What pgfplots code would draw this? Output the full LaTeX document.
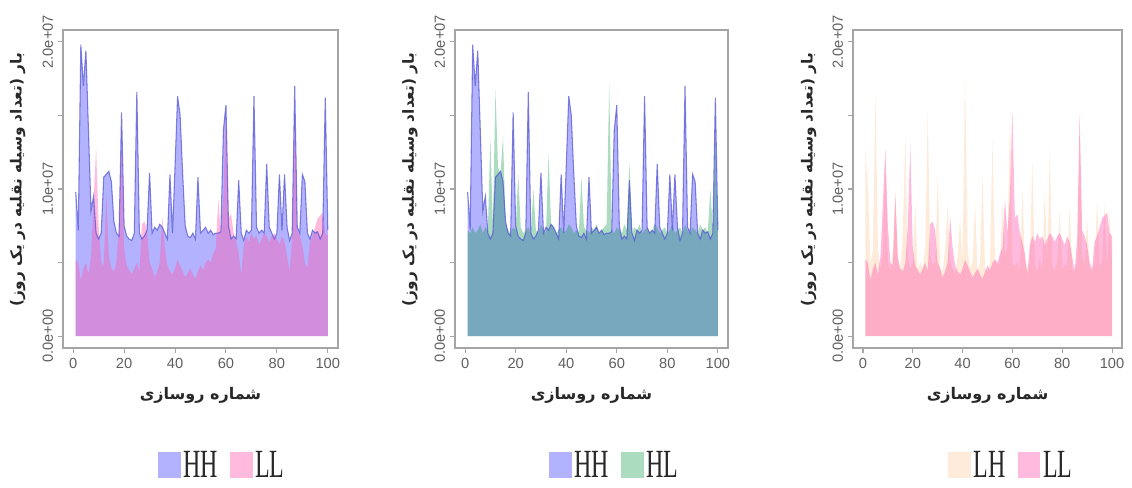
\documentclass[border=0pt]{standalone}
\usepackage{pgfplots}
\pgfplotsset{compat=1.18}
\usepackage{pgfplotstable}
\usepackage{fontspec}
\setmainfont{Liberation Sans}
\newfontfamily\arabicfont[Script=Arabic]{DejaVu Sans}
\newfontfamily\legfont{Liberation Serif}
\TeXXeTstate=1

\definecolor{hhfill}{RGB}{0,0,255}
\definecolor{hhline}{RGB}{80,80,210}
\definecolor{llfill}{RGB}{255,90,175}
\definecolor{hlfill}{RGB}{0,150,60}
\definecolor{lhfill}{RGB}{255,190,130}
\definecolor{boxgray}{RGB}{165,165,165}
\definecolor{ticktext}{RGB}{95,95,95}
\definecolor{labtext}{RGB}{40,40,40}

\newcommand{\ylab}{\arabicfont\bfseries\fontsize{11.5}{12}\selectfont\beginR بار (تعداد وسیله نقلیه در یک روز)\endR}
\newcommand{\xlab}{\arabicfont\bfseries\fontsize{12}{13}\selectfont\beginR شماره روسازی\endR}
\newcommand{\leg}[1]{\scalebox{0.6}[1]{\legfont\fontsize{30}{30}\selectfont #1}}

% values in units of 1e6 vehicles per day, pavement no. 1..100
\pgfplotstableread{
x hh ll hl lh
1 9.8 5.2 7.2 12.6
2 7.2 5.0 7.0 10.0
3 19.8 3.8 7.4 5.0
4 17.0 4.6 7.0 5.8
5 19.4 5.0 7.2 16.8
6 14.0 4.2 7.6 6.0
7 8.5 5.4 7.0 4.6
8 9.5 9.0 7.4 5.5
9 7.0 12.8 7.2 12.0
10 6.6 7.5 13.4 5.0
11 7.0 5.0 7.6 4.5
12 10.8 4.8 16.8 6.0
13 11.0 9.6 11.5 10.0
14 11.2 5.4 11.0 5.0
15 10.5 4.6 13.6 4.4
16 7.8 4.4 7.6 7.0
17 7.0 5.0 7.2 13.7
18 6.8 7.5 7.0 5.2
19 15.2 13.0 7.4 4.6
20 7.5 6.0 7.2 5.0
21 6.8 4.8 11.0 9.0
22 6.6 4.5 7.4 4.4
23 6.5 4.2 7.0 5.0
24 7.0 4.6 7.2 4.6
25 16.6 5.0 7.4 6.0
26 7.0 4.4 7.0 15.3
27 6.6 7.6 10.0 5.6
28 6.8 7.8 7.2 4.8
29 7.2 7.2 7.0 5.0
30 11.1 5.0 7.6 11.0
31 7.0 4.6 7.2 4.6
32 7.4 4.0 7.0 4.4
33 7.2 4.4 12.4 6.0
34 7.6 5.0 7.6 9.0
35 7.4 8.1 7.4 5.0
36 7.0 6.0 7.0 4.6
37 6.6 4.8 7.2 4.2
38 11.0 4.4 7.4 5.4
39 7.0 4.2 7.0 8.0
40 11.5 4.6 7.2 5.0
41 16.3 5.2 7.6 17.9
42 15.0 4.8 7.4 6.0
43 11.0 4.4 7.0 4.6
44 7.5 4.0 7.2 5.0
45 6.8 4.3 7.0 9.0
46 6.7 4.6 10.8 4.4
47 7.0 4.2 7.4 5.0
48 6.6 3.9 7.2 11.0
49 10.8 4.4 7.0 4.6
50 7.0 4.8 7.4 4.4
51 7.2 4.5 7.2 5.0
52 7.4 5.0 7.6 13.3
53 7.0 5.2 7.0 5.2
54 7.2 5.0 7.2 4.8
55 6.9 5.6 7.4 5.0
56 7.0 6.0 7.6 9.0
57 7.0 9.3 17.2 5.4
58 7.1 7.0 7.2 6.0
59 14.0 9.5 7.0 15.0
60 15.7 15.4 7.4 5.0
61 7.5 8.0 7.2 4.8
62 6.6 8.3 7.0 5.0
63 6.8 7.0 7.6 4.4
64 6.6 6.4 7.2 10.0
65 10.6 5.6 11.8 5.0
66 7.0 4.2 7.0 4.6
67 6.5 6.2 7.4 5.0
68 7.2 6.8 7.2 12.0
69 7.0 6.4 7.6 4.8
70 7.2 7.0 7.0 4.4
71 16.3 6.6 7.2 5.2
72 7.4 6.8 7.4 4.6
73 7.0 6.2 7.0 10.0
74 7.2 6.6 7.2 5.0
75 7.0 7.0 7.6 12.8
76 11.7 6.8 7.4 4.8
77 7.4 6.4 7.0 4.4
78 7.0 6.8 7.2 5.0
79 6.6 7.0 7.4 8.5
80 7.0 6.6 7.0 4.6
81 11.0 6.2 7.2 4.8
82 7.2 6.8 7.6 5.0
83 11.0 6.4 7.0 8.8
84 7.4 5.4 7.2 4.4
85 6.5 4.4 7.4 4.6
86 7.0 6.6 7.0 5.0
87 17.0 15.0 7.6 15.3
88 7.4 7.2 7.2 5.4
89 7.0 6.8 7.0 4.8
90 11.0 6.2 7.4 8.0
91 10.5 5.0 7.2 4.6
92 7.0 4.6 7.0 4.4
93 6.6 6.4 7.6 5.0
94 7.2 6.8 7.2 9.2
95 7.0 7.4 7.4 4.8
96 7.1 8.0 7.0 5.0
97 6.6 8.2 10.0 9.0
98 7.0 8.4 7.2 4.6
99 16.2 7.0 13.3 8.4
100 7.2 6.8 7.0 5.0
}\loads

\pgfplotsset{
  panel/.style={
    scale only axis, height=238.5pt, anchor=south west,
    xmin=-4, xmax=104, ymin=-0.8, ymax=20.8,
    axis line style={boxgray, line width=0.8pt},
    tick style={boxgray, line width=0.8pt},
    tick align=outside, major tick length=4pt,
    xtick pos=left, ytick pos=left,
    xtick={0,20,...,100}, ytick={0,5,10,15,20},
    yticklabels={0.0e+00,,1.0e+07,,2.0e+07},
    /pgf/number format/assume math mode=true,
    tick label style={font=\fontsize{11}{11}\selectfont, text=ticktext},
    yticklabel style={rotate=90, anchor=south},
    every axis y label/.style={at={(axis description cs:-0.165,0.53)}, rotate=90, anchor=center, text=labtext},
    every axis x label/.style={at={(axis description cs:0.5,-0.148)}, anchor=center, text=labtext},
    xlabel={\xlab}, ylabel={\ylab},
    legend style={anchor=center, draw=none, fill=none, legend columns=-1,
      /tikz/every even column/.append style={column sep=7pt}, text=labtext},
    legend image code/.code={\fill[#1, draw=none] (0pt,-10pt) rectangle (17pt,10pt);},
  },
}

\begin{document}
\begin{tikzpicture}
\path[use as bounding box] (0pt,0pt) rectangle (849pt,365.25pt);

% HH vs LL
\begin{axis}[panel, at={(47.25pt,104.25pt)}, width=206.25pt,
  legend style={at={(axis description cs:0.58,-0.368)}}]
\addplot[fill=hhfill, fill opacity=0.3, draw=none] table[x=x, y=hh]{\loads} \closedcycle;
\addlegendentry{\leg{HH}}
\addplot[fill=llfill, fill opacity=0.42, draw=none] table[x=x, y=ll]{\loads} \closedcycle;
\addlegendentry{\leg{LL}}
\addplot[forget plot, hhline, line width=0.8pt, draw opacity=0.7] table[x=x, y=hh]{\loads};
\end{axis}

% HH vs HL
\begin{axis}[panel, at={(341.25pt,104.25pt)}, width=204.75pt,
  legend style={at={(axis description cs:0.586,-0.368)}}]
\addplot[fill=hhfill, fill opacity=0.3, draw=none] table[x=x, y=hh]{\loads} \closedcycle;
\addlegendentry{\leg{HH}}
\addplot[fill=hlfill, fill opacity=0.33, draw=none] table[x=x, y=hl]{\loads} \closedcycle;
\addlegendentry{\leg{HL}}
\addplot[forget plot, hhline, line width=0.8pt, draw opacity=0.7] table[x=x, y=hh]{\loads};
\end{axis}

% LH vs LL
\begin{axis}[panel, at={(639.75pt,104.25pt)}, width=201.75pt,
  legend style={at={(axis description cs:0.59,-0.368)}}]
\addplot[fill=lhfill, fill opacity=0.3, draw=none] table[x=x, y=lh]{\loads} \closedcycle;
\addlegendentry{\leg{LH}}
\addplot[fill=llfill, fill opacity=0.42, draw=none] table[x=x, y=ll]{\loads} \closedcycle;
\addlegendentry{\leg{LL}}
\end{axis}
\end{tikzpicture}
\end{document}
